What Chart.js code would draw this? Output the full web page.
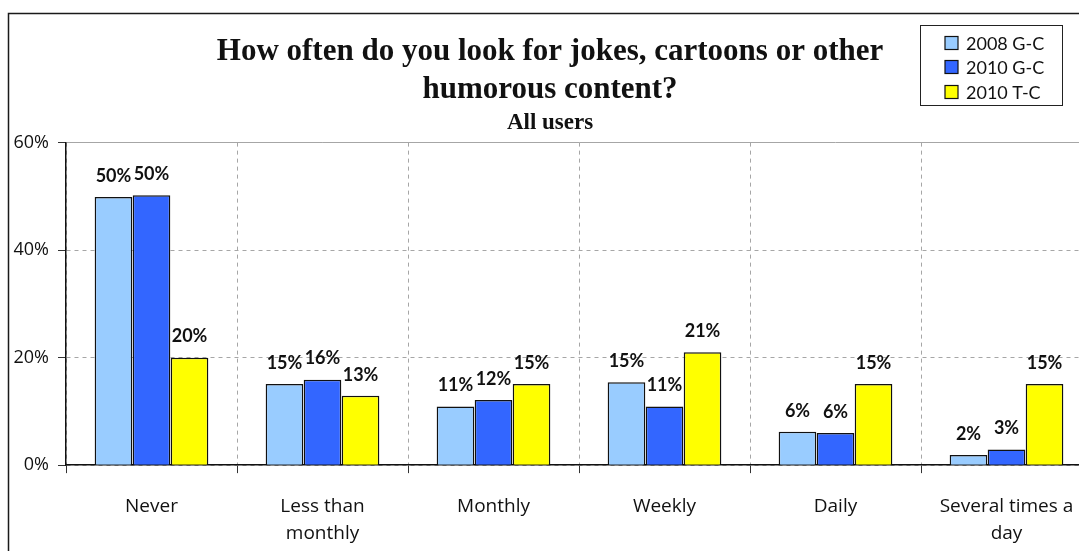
<!DOCTYPE html>
<html>
<head>
<meta charset="utf-8">
<script src="https://cdn.jsdelivr.net/npm/chart.js@4.4.1/dist/chart.umd.min.js"></script>
<style>
html, body { margin: 0; padding: 0; overflow: hidden; background: #fff; }
#wrap { position: absolute; left: 0; top: 0; width: 1096px; height: 579px; }
</style>
</head>
<body>
<div id="wrap"><canvas id="c" width="1096" height="579"></canvas></div>
<script>
const categories = [["Never"], ["Less than", "monthly"], ["Monthly"], ["Weekly"], ["Daily"], ["Several times a", "day"]];
const seriesNames = ["2008 G-C", "2010 G-C", "2010 T-C"];
const gc2008 = [49.9, 15.1, 10.9, 15.4, 6.2, 1.9];
const gc2010 = [50.2, 15.9, 12.1, 10.9, 6.0, 2.9];
const tc2010 = [20.0, 12.9, 15.1, 21.0, 15.1, 15.1];
const yTicks = [0, 20, 40, 60];
const titleLines = ["How often do you look for jokes, cartoons or other", "humorous content?"];
const subtitleText = "All users";
const colors = ["#99CCFF", "#3366FF", "#FFFF00"];

const framePlugin = {
  id: 'frame',
  beforeDraw(chart) {
    const ctx = chart.ctx;
    ctx.save();
    ctx.fillStyle = '#fff';
    ctx.fillRect(0, 0, chart.width, chart.height);
    ctx.strokeStyle = '#1a1a1a';
    ctx.lineWidth = 1.5;
    ctx.strokeRect(8.5, 13.5, 2000, 2000);
    ctx.restore();
  }
};

const valueLabels = {
  id: 'valueLabels',
  afterDatasetsDraw(chart) {
    const ctx = chart.ctx;
    ctx.save();
    ctx.font = 'bold 18px Lato';
    ctx.fillStyle = '#111';
    ctx.textAlign = 'center';
    ctx.textBaseline = 'middle';
    chart.data.datasets.forEach((ds, i) => {
      chart.getDatasetMeta(i).data.forEach((bar, j) => {
        ctx.fillText(Math.round(ds.data[j]) + '%', bar.x, bar.y - 21);
      });
    });
    ctx.restore();
  }
};

const boxLegend = {
  id: 'boxLegend',
  afterDraw(chart) {
    const ctx = chart.ctx;
    ctx.save();
    ctx.strokeStyle = '#222';
    ctx.lineWidth = 1;
    ctx.strokeRect(920.5, 25.5, 142, 80);
    ctx.font = '18px Lato';
    ctx.textBaseline = 'middle';
    ctx.textAlign = 'left';
    const rows = [43, 67, 92];
    chart.data.datasets.forEach((ds, i) => {
      ctx.fillStyle = ds.backgroundColor;
      ctx.fillRect(945, rows[i] - 6.5, 13, 13);
      ctx.strokeStyle = '#111';
      ctx.lineWidth = 1.2;
      ctx.strokeRect(945, rows[i] - 6.5, 13, 13);
      ctx.fillStyle = '#111';
      ctx.fillText(ds.label, 966, rows[i] + 1);
    });
    ctx.restore();
  }
};

new Chart(document.getElementById('c'), {
  type: 'bar',
  data: {
    labels: categories,
    datasets: [
      { label: seriesNames[0], data: gc2008, backgroundColor: colors[0] },
      { label: seriesNames[1], data: gc2010, backgroundColor: colors[1] },
      { label: seriesNames[2], data: tc2010, backgroundColor: colors[2] }
    ]
  },
  options: {
    responsive: false,
    animation: false,
    devicePixelRatio: 1,
    layout: { padding: { left: 8, right: 4, top: 0, bottom: 12 } },
    datasets: {
      bar: {
        borderColor: '#111',
        borderWidth: 1.5,
        categoryPercentage: 0.667,
        barPercentage: 0.99
      }
    },
    plugins: {
      legend: { display: false },
      tooltip: { enabled: false },
      title: {
        display: true,
        text: titleLines,
        color: '#111',
        font: { family: 'Liberation Serif', size: 31, weight: 'bold', lineHeight: 1.226 },
        padding: { top: 33, bottom: 0 }
      },
      subtitle: {
        display: true,
        text: subtitleText,
        color: '#111',
        font: { family: 'Liberation Serif', size: 23, weight: 'bold', lineHeight: 1.2 },
        padding: { top: 0, bottom: 6 }
      }
    },
    scales: {
      x: {
        grid: {
          offset: true,
          color: '#a6a6a6',
          lineWidth: 1,
          tickLength: 8,
          tickColor: '#333'
        },
        border: { color: '#111', width: 1.5, dash: [4, 4] },
        ticks: {
          color: '#111',
          font: { family: 'Open Sans', size: 19, lineHeight: 1.47 },
          padding: 19,
          maxRotation: 0,
          autoSkip: false
        }
      },
      y: {
        min: 0,
        max: 60,
        afterBuildTicks(scale) { scale.ticks = yTicks.map(v => ({ value: v })); },
        afterFit(scale) { scale.width = 58; },
        grid: {
          color: '#a6a6a6',
          lineWidth: 1,
          tickLength: 8,
          tickColor: '#333'
        },
        border: {
          color: '#111',
          width: 1.5,
          dash: (ctx) => (ctx.tick && ctx.tick.value === 60 ? [] : [4, 4])
        },
        ticks: {
          color: '#111',
          font: { family: 'Open Sans', size: 18 },
          padding: 9,
          callback: (v) => v + '%'
        }
      }
    }
  },
  plugins: [framePlugin, valueLabels, boxLegend]
});
</script>
</body>
</html>
